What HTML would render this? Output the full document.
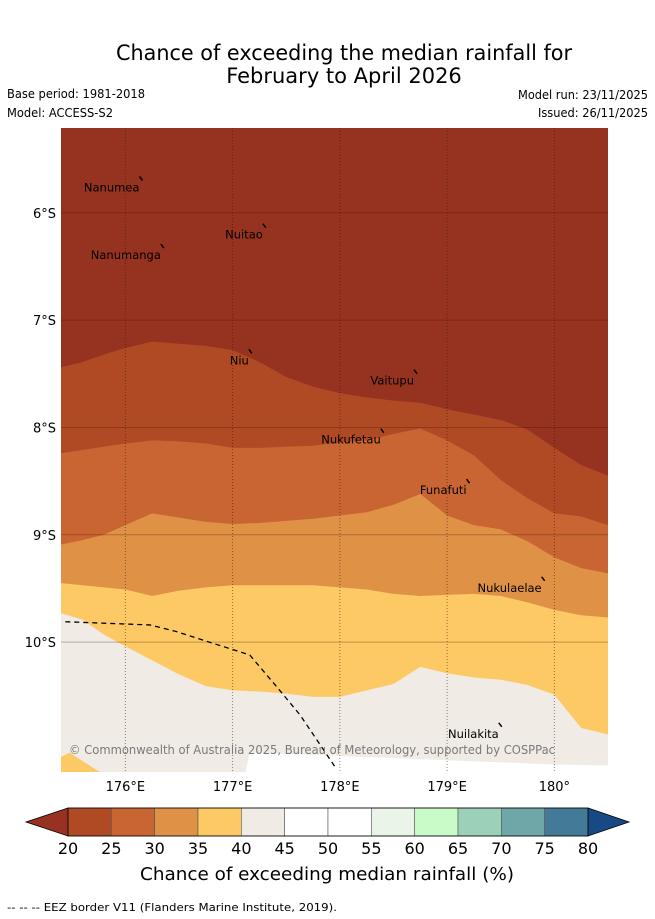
<!DOCTYPE html>
<html><head><meta charset="utf-8"><style>
html,body{margin:0;padding:0;background:#fff;}
svg{display:block;font-family:"DejaVu Sans","Liberation Sans",sans-serif;}
</style></head><body>
<svg id="fig" width="655" height="919" viewBox="0 0 655 919">
<text x="344" y="60" font-size="21" text-anchor="middle" textLength="456" lengthAdjust="spacingAndGlyphs">Chance of exceeding the median rainfall for</text>
<text x="344" y="83" font-size="21" text-anchor="middle">February to April 2026</text>
<text x="7" y="98" font-size="12" textLength="138" lengthAdjust="spacingAndGlyphs">Base period: 1981-2018</text>
<text x="7" y="117" font-size="12" textLength="106" lengthAdjust="spacingAndGlyphs">Model: ACCESS-S2</text>
<text x="648" y="99" font-size="12" text-anchor="end" textLength="130" lengthAdjust="spacingAndGlyphs">Model run: 23/11/2025</text>
<text x="648" y="117" font-size="12" text-anchor="end" textLength="110" lengthAdjust="spacingAndGlyphs">Issued: 26/11/2025</text>
<defs><clipPath id="mapclip"><rect x="61" y="128" width="547" height="644"/></clipPath></defs>
<g id="map" clip-path="url(#mapclip)"></g>
<g id="overlay"></g>
<g id="cbar"></g>
<text x="327" y="880" font-size="18" text-anchor="middle" textLength="374" lengthAdjust="spacingAndGlyphs">Chance of exceeding median rainfall (%)</text>
<text x="7" y="911" font-size="11" textLength="330" lengthAdjust="spacingAndGlyphs">-- -- -- EEZ border V11 (Flanders Marine Institute, 2019).</text>
</svg>
<script>
// ---- data ----
const lonSamples = [175.4,175.6,175.8,176,176.25,176.5,176.75,177,177.25,177.5,177.75,178,178.25,178.5,178.75,179,179.25,179.5,179.75,180,180.25,180.5];
const boundary20 = [-7.44,-7.39,-7.32,-7.26,-7.20,-7.22,-7.24,-7.28,-7.39,-7.53,-7.62,-7.68,-7.72,-7.75,-7.77,-7.83,-7.88,-7.93,-8.02,-8.19,-8.35,-8.45];
const boundary25 = [-8.24,-8.21,-8.18,-8.15,-8.12,-8.13,-8.15,-8.19,-8.19,-8.18,-8.17,-8.14,-8.12,-8.06,-8.01,-8.12,-8.26,-8.49,-8.66,-8.80,-8.83,-8.91];
const boundary30 = [-9.09,-9.05,-9.00,-8.91,-8.80,-8.84,-8.88,-8.90,-8.89,-8.87,-8.85,-8.82,-8.79,-8.72,-8.62,-8.82,-8.91,-8.95,-9.06,-9.21,-9.31,-9.36];
const boundary35 = [-9.45,-9.47,-9.49,-9.51,-9.57,-9.52,-9.49,-9.47,-9.47,-9.47,-9.47,-9.49,-9.51,-9.55,-9.57,-9.56,-9.55,-9.57,-9.63,-9.70,-9.75,-9.77];
const boundary40 = [-9.73,-9.79,-9.93,-10.04,-10.17,-10.30,-10.41,-10.45,-10.46,-10.48,-10.51,-10.51,-10.45,-10.39,-10.23,-10.29,-10.33,-10.35,-10.40,-10.49,-10.80,-10.86];
const whiteLon = [177.16,178,179,180,180.5];
const whiteLat = [-11.03,-11.06,-11.10,-11.14,-11.15];
const yellowPatchLon = [175.4,175.48,175.76,175.4];
const yellowPatchLat = [-11.07,-11.03,-11.21,-11.21];
const eezLon = [175.44,176.23,176.47,177.16,177.44,177.63,177.96];
const eezLat = [-9.81,-9.84,-9.90,-10.12,-10.45,-10.68,-11.17];
const lonTicks = [176,177,178,179,180];
const lonTickLabels = ["176°E","177°E","178°E","179°E","180°"];
const latTicks = [-6,-7,-8,-9,-10];
const latTickLabels = ["6°S","7°S","8°S","9°S","10°S"];
const islandNames = ["Nanumea","Nuitao","Nanumanga","Niu","Vaitupu","Nukufetau","Funafuti","Nukulaelae","Nuilakita"];
const islandLon = [176.15,177.3,176.35,177.17,178.71,178.4,179.2,179.9,179.5];
const islandLat = [-5.68,-6.12,-6.31,-7.29,-7.48,-8.03,-8.5,-9.41,-10.77];
const cbarLevels = [20,25,30,35,40,45,50,55,60,65,70,75,80];
const cbarColors = ["#b04a25","#c96533","#df9245","#fdc964","#f0ebe5","#ffffff","#ffffff","#eaf4e8","#c9fbc8","#9dd0b8","#6fa6a8","#437a97"];
const bandColors = ["#963220","#b04a25","#c96533","#df9245","#fdc964","#f0ebe5","#ffffff"];

// ---- axes ----
const X0=61,X1=608,Y0=128,Y1=772;
const LON0=175.4,LON1=180.5,LAT0=-5.21,LAT1=-11.21;
const xs = lon => X0 + (lon-LON0)/(LON1-LON0)*(X1-X0);
const ys = lat => Y0 + (lat-LAT0)/(LAT1-LAT0)*(Y1-Y0);
const NS="http://www.w3.org/2000/svg";
function mk(tag,parent){const e=document.createElementNS(NS,tag);parent.appendChild(e);return e;}
const map=document.getElementById('map'), ov=document.getElementById('overlay'), cb=document.getElementById('cbar');

const bg=mk('rect',map);


bg.setAttribute('x',X0);bg.setAttribute('y',Y0);bg.setAttribute('width',X1-X0);bg.setAttribute('height',Y1-Y0);bg.setAttribute('fill',bandColors[0]);

const bounds=[boundary20,boundary25,boundary30,boundary35,boundary40];
const bandNames=['band-20-25','band-25-30','band-30-35','band-35-40','band-40-45'];
bounds.forEach((b,i)=>{
  const p=mk('polygon',map);
  
  
  let pts=lonSamples.map((l,k)=>xs(l)+','+ys(b[k]));
  pts.push(xs(LON1)+','+ys(LAT1), xs(LON0)+','+ys(LAT1));
  p.setAttribute('points',pts.join(' '));
  p.setAttribute('fill',bandColors[i+1]);
});
const wp=mk('polygon',map);


let wpts=whiteLon.map((l,k)=>xs(l)+','+ys(whiteLat[k]));
wpts.push(xs(LON1)+','+ys(LAT1), xs(177.12)+','+ys(LAT1));
wp.setAttribute('points',wpts.join(' '));wp.setAttribute('fill','#ffffff');
const yp=mk('polygon',map);


yp.setAttribute('points',yellowPatchLon.map((l,k)=>xs(l)+','+ys(yellowPatchLat[k])).join(' '));
yp.setAttribute('fill',bandColors[4]);

// gridlines
latTicks.forEach((t,i)=>{
  const l=mk('line',map);
  
  
  l.setAttribute('x1',X0);l.setAttribute('x2',X1);l.setAttribute('y1',ys(t));l.setAttribute('y2',ys(t));
  l.setAttribute('stroke','rgba(60,20,10,0.3)');l.setAttribute('stroke-width','1');
  const tx=mk('text',ov);
  
  
  tx.setAttribute('x',56);tx.setAttribute('y',ys(t)+5);tx.setAttribute('text-anchor','end');tx.setAttribute('font-size','13');
  tx.textContent=latTickLabels[i];
});
lonTicks.forEach((t,i)=>{
  const l=mk('line',map);
  
  
  l.setAttribute('x1',xs(t));l.setAttribute('x2',xs(t));l.setAttribute('y1',Y0);l.setAttribute('y2',Y1);
  l.setAttribute('stroke','rgba(40,20,10,0.5)');l.setAttribute('stroke-width','1');l.setAttribute('stroke-dasharray','1,2');
  const tx=mk('text',ov);
  
  
  tx.setAttribute('x',xs(t));tx.setAttribute('y',791);tx.setAttribute('text-anchor','middle');tx.setAttribute('font-size','13');
  tx.textContent=lonTickLabels[i];
});

// EEZ
const ez=mk('polyline',map);


ez.setAttribute('points',eezLon.map((l,k)=>xs(l)+','+ys(eezLat[k])).join(' '));
ez.setAttribute('fill','none');ez.setAttribute('stroke','#000');ez.setAttribute('stroke-width','1.3');ez.setAttribute('stroke-dasharray','5,4');

// islands
islandNames.forEach((n,i)=>{
  const m=mk('line',map);
  
  
  const x=xs(islandLon[i]), y=ys(islandLat[i]);
  m.setAttribute('x1',x-2);m.setAttribute('y1',y-2);m.setAttribute('x2',x+1);m.setAttribute('y2',y+2);
  m.setAttribute('stroke','#000');m.setAttribute('stroke-width','1.5');
  const t=mk('text',map);
  
  
  t.setAttribute('x',x-2);t.setAttribute('y',y+13);t.setAttribute('text-anchor','end');t.setAttribute('font-size','11.5');
  t.textContent=n;
});

// copyright
const cp=mk('text',map);


cp.setAttribute('x',69);cp.setAttribute('y',754);cp.setAttribute('font-size','12');cp.setAttribute('fill','#7a7a7a');
cp.setAttribute('textLength','486');cp.setAttribute('lengthAdjust','spacingAndGlyphs');
cp.textContent='© Commonwealth of Australia 2025, Bureau of Meteorology, supported by COSPPac';

// colorbar
const CB0=68,CB1=588,CBY0=808,CBY1=836;
const cx = v => CB0 + (v-20)/60*(CB1-CB0);
const lt=mk('polygon',cb);


lt.setAttribute('points',`${CB0},${CBY0} 26,${(CBY0+CBY1)/2} ${CB0},${CBY1}`);lt.setAttribute('fill','#973222');lt.setAttribute('stroke','#000');lt.setAttribute('stroke-width','0.8');
const rt=mk('polygon',cb);


rt.setAttribute('points',`${CB1},${CBY0} 629,${(CBY0+CBY1)/2} ${CB1},${CBY1}`);rt.setAttribute('fill','#174a85');rt.setAttribute('stroke','#000');rt.setAttribute('stroke-width','0.8');
cbarColors.forEach((c,i)=>{
  const r=mk('rect',cb);
  
  
  r.setAttribute('x',cx(cbarLevels[i]));r.setAttribute('y',CBY0);r.setAttribute('width',cx(cbarLevels[i+1])-cx(cbarLevels[i]));r.setAttribute('height',CBY1-CBY0);
  r.setAttribute('fill',c);r.setAttribute('stroke','#555');r.setAttribute('stroke-width','0.6');
});
const fr=mk('rect',cb);


fr.setAttribute('x',CB0);fr.setAttribute('y',CBY0);fr.setAttribute('width',CB1-CB0);fr.setAttribute('height',CBY1-CBY0);fr.setAttribute('fill','none');fr.setAttribute('stroke','#000');fr.setAttribute('stroke-width','0.8');
cbarLevels.forEach(v=>{
  const t=mk('text',cb);
  
  
  t.setAttribute('x',cx(v));t.setAttribute('y',854);t.setAttribute('text-anchor','middle');t.setAttribute('font-size','16');
  t.textContent=v;
});
</script>
</body></html>
